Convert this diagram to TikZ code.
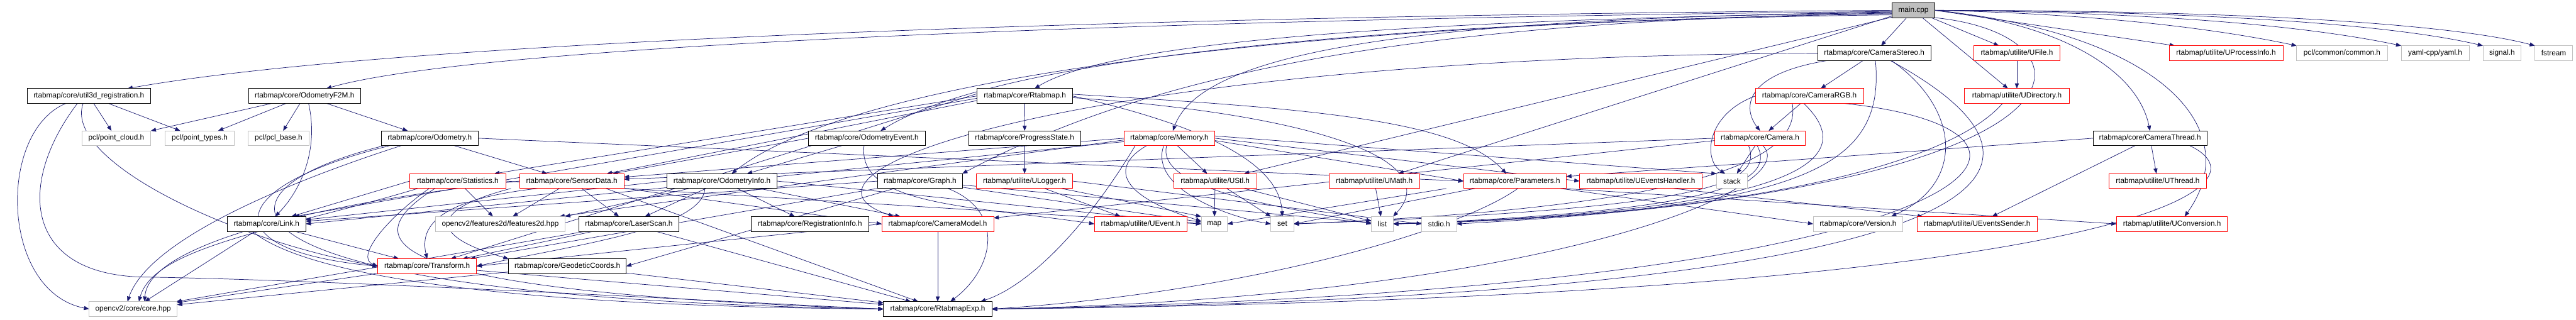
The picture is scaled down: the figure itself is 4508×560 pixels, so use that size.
\documentclass[tikz,border=0pt]{standalone}
\usepackage{fontspec}
\setmainfont{Liberation Sans}
\usetikzlibrary{arrows.meta}
\definecolor{edgec}{HTML}{191970}
\definecolor{grayb}{HTML}{BFBFBF}
\definecolor{redb}{HTML}{FF0000}
\pgfdeclarelayer{bg}
\pgfsetlayers{bg,main}
\tikzset{
  hbox/.style={draw, fill=white, line width=0.9pt, minimum height=26pt, inner sep=0pt, outer sep=0pt, font=\fontsize{13}{15}\selectfont},
  blkbox/.style={hbox, draw=black},
  redbox/.style={hbox, draw=redb},
  grybox/.style={hbox, draw=grayb},
  mainbox/.style={hbox, draw=black, fill=grayb},
  edg/.style={draw=edgec, line width=0.8pt, -{Triangle[length=9pt,width=7pt]}},
}
\begin{document}
\begin{tikzpicture}[x=1pt,y=-1pt]
\useasboundingbox (0,0) rectangle (4508,560);
% row 0
\node[mainbox, minimum width=75pt] (main) at (3348.5,18) {main.cpp};
% row 1
\node[blkbox, minimum width=198pt] (camstereo) at (3280,93) {rtabmap/core/CameraStereo.h};
\node[redbox, minimum width=151pt] (ufile) at (3529.5,93) {rtabmap/utilite/UFile.h};
\node[redbox, minimum width=199pt] (uproc) at (3895.5,93) {rtabmap/utilite/UProcessInfo.h};
\node[grybox, minimum width=159pt] (pclcommon) at (4098.5,93) {pcl/common/common.h};
\node[grybox, minimum width=119pt] (yaml) at (4261.5,93) {yaml-cpp/yaml.h};
\node[grybox, minimum width=67pt] (signal) at (4378.5,93) {signal.h};
\node[grybox, minimum width=66pt] (fstream) at (4469,93) {fstream};
% row 2
\node[blkbox, minimum width=215pt] (util3d) at (155.5,168) {rtabmap/core/util3d\_registration.h};
\node[blkbox, minimum width=196pt] (f2m) at (533,168) {rtabmap/core/OdometryF2M.h};
\node[blkbox, minimum width=167pt] (rtabmap) at (1793.5,168) {rtabmap/core/Rtabmap.h};
\node[redbox, minimum width=189pt] (camrgb) at (3166.5,168) {rtabmap/core/CameraRGB.h};
\node[redbox, minimum width=183pt] (udir) at (3529.5,168) {rtabmap/utilite/UDirectory.h};
% row 3
\node[grybox, minimum width=121pt] (pclcloud) at (203.5,242) {pcl/point\_cloud.h};
\node[grybox, minimum width=121pt] (pcltypes) at (349.5,242) {pcl/point\_types.h};
\node[grybox, minimum width=107pt] (pclbase) at (487.5,242) {pcl/pcl\_base.h};
\node[blkbox, minimum width=170pt] (odom) at (752,242) {rtabmap/core/Odometry.h};
\node[blkbox, minimum width=204pt] (odomevent) at (1517,242) {rtabmap/core/OdometryEvent.h};
\node[blkbox, minimum width=196pt] (progress) at (1793,242) {rtabmap/core/ProgressState.h};
\node[redbox, minimum width=159pt] (memory) at (2046.5,242) {rtabmap/core/Memory.h};
\node[redbox, minimum width=158pt] (camera) at (3080,242) {rtabmap/core/Camera.h};
\node[blkbox, minimum width=199pt] (camthread) at (3762.5,242) {rtabmap/core/CameraThread.h};
% row 4
\node[redbox, minimum width=168pt] (stats) at (801,317) {rtabmap/core/Statistics.h};
\node[redbox, minimum width=183pt] (sensordata) at (1000.5,317) {rtabmap/core/SensorData.h};
\node[blkbox, minimum width=193pt] (odominfo) at (1263.5,317) {rtabmap/core/OdometryInfo.h};
\node[blkbox, minimum width=148pt] (graph) at (1610,317) {rtabmap/core/Graph.h};
\node[redbox, minimum width=168pt] (ulogger) at (1793,317) {rtabmap/utilite/ULogger.h};
\node[redbox, minimum width=145pt] (ustl) at (2126.5,317) {rtabmap/utilite/UStl.h};
\node[redbox, minimum width=158pt] (umath) at (2405,317) {rtabmap/utilite/UMath.h};
\node[redbox, minimum width=180pt] (params) at (2651,317) {rtabmap/core/Parameters.h};
\node[redbox, minimum width=215pt] (uevh) at (2871.5,317) {rtabmap/utilite/UEventsHandler.h};
\node[grybox, minimum width=54pt] (stack) at (3031,317) {stack};
\node[redbox, minimum width=170pt] (uthread) at (3776,317) {rtabmap/utilite/UThread.h};
% row 5
\node[blkbox, minimum width=137pt] (link) at (466.5,392) {rtabmap/core/Link.h};
\node[grybox, minimum width=227pt] (feat2d) at (875.5,392) {opencv2/features2d/features2d.hpp};
\node[blkbox, minimum width=175pt] (laserscan) at (1100.5,392) {rtabmap/core/LaserScan.h};
\node[blkbox, minimum width=205pt] (reginfo) at (1417.5,392) {rtabmap/core/RegistrationInfo.h};
\node[redbox, minimum width=196pt] (cammodel) at (1641,392) {rtabmap/core/CameraModel.h};
\node[redbox, minimum width=162pt] (uevent) at (1996,392) {rtabmap/utilite/UEvent.h};
\node[grybox, minimum width=46pt] (map) at (2125,392) {map};
\node[grybox, minimum width=40pt] (set) at (2244,392) {set};
\node[grybox, minimum width=38pt] (list) at (2419,392) {list};
\node[grybox, minimum width=61pt] (stdio) at (2518.5,392) {stdio.h};
\node[grybox, minimum width=157pt] (version) at (3251.5,392) {rtabmap/core/Version.h};
\node[redbox, minimum width=210pt] (uevsender) at (3460,392) {rtabmap/utilite/UEventsSender.h};
\node[redbox, minimum width=194pt] (uconv) at (3801,392) {rtabmap/utilite/UConversion.h};
% row 6
\node[redbox, minimum width=173pt] (transform) at (747.5,466) {rtabmap/core/Transform.h};
\node[blkbox, minimum width=206pt] (geodetic) at (993,466) {rtabmap/core/GeodeticCoords.h};
% row 7
\node[grybox, minimum width=154pt] (corehpp) at (233,541) {opencv2/core/core.hpp};
\node[blkbox, minimum width=190pt] (rtabexp) at (1641,541) {rtabmap/core/RtabmapExp.h};

\begin{pgfonlayer}{bg}
% main.cpp
\draw[edg] (main) -- (camstereo);
\draw[edg] (main) -- (ufile);
\draw[edg] (main) -- (udir);
\draw[edg] (main.east) .. controls (3600,40) and (3740,120) .. (camthread.north);
\draw[edg] (main.east) .. controls (3790,60) and (3930,230) .. ([xshift=22pt]uconv.north);
\draw[edg] (main.east) -- ([xshift=10pt]uproc.north west);
\draw[edg] (main.east) .. controls (3700,25) and (3900,55) .. (pclcommon.north west);
\draw[edg] (main.east) .. controls (3800,22) and (4050,48) .. (yaml.north west);
\draw[edg] (main.east) .. controls (3900,20) and (4200,46) .. (signal.north west);
\draw[edg] (main.east) .. controls (3950,18) and (4300,44) .. (fstream.north west);
\draw[edg] (main.west) .. controls (2000,28) and (700,70) .. ([xshift=-40pt]util3d.north east);
\draw[edg] ([yshift=-2pt]main.west) .. controls (2100,32) and (850,75) .. ([xshift=38pt]f2m.north);
\draw[edg] ([yshift=-4pt]main.west) .. controls (2500,34) and (1950,70) .. ([xshift=17pt]rtabmap.north);
\draw[edg] ([yshift=-6pt]main.west) .. controls (2400,40) and (1750,100) .. ([xshift=24pt]odomevent.north);
\draw[edg] ([yshift=-8pt]main.west) .. controls (2300,38) and (1500,130) .. ([xshift=17pt]odominfo.north);
\draw[edg] ([yshift=-3pt]main.west) .. controls (2600,32) and (2110,70) .. ([xshift=6pt]memory.north);
\draw[edg] ([yshift=-5pt]main.west) .. controls (2500,36) and (2030,120) .. (graph.north east);
\draw[edg] ([yshift=-10pt]main.west) -- ([xshift=42pt]umath.north);
\draw[edg] ([yshift=-12pt]main.west) -- ([xshift=-22pt]ustl.north east);
\draw[edg] (main.south east) .. controls (3680,60) and (3720,330) .. (stdio.east);
% CameraStereo
\draw[edg] (camstereo) -- (camrgb);
\draw[edg] ([xshift=17pt]camstereo.south west) .. controls (3050,130) and (3050,190) .. (camera.north);
\draw[edg] (camstereo.west) .. controls (1900,100) and (1330,300) .. ([xshift=-77pt]cammodel.north);
\draw[edg] ([xshift=30pt]camstereo.south) .. controls (3430,190) and (3440,320) .. ([xshift=58pt]version.north);
\draw[edg] ([xshift=28pt]camstereo.south) .. controls (3720,330) and (3400,520) .. (rtabexp.east);
\draw[edg] ([xshift=2pt]camstereo.south) .. controls (3300,300) and (3150,370) .. (list.east);
% CameraRGB
\draw[edg] (camrgb) -- (camera);
\draw[edg] (camrgb.west) .. controls (2985,200) and (2980,280) .. ([xshift=-12pt]stack.north);
\draw[edg] ([xshift=-30pt]camrgb.south) .. controls (3150,260) and (3050,360) .. (set.east);
\draw[edg] ([xshift=-10pt]camrgb.south) .. controls (3260,280) and (3150,370) .. (list.east);
\draw[edg] ([xshift=60pt]camrgb.south) .. controls (3700,230) and (3500,510) .. (rtabexp.east);
% Camera
\draw[edg] (camera) -- (stack);
\draw[edg] (camera.west) -- (sensordata);
\draw[edg] ([yshift=-4pt]camera.west) -- (cammodel);
\draw[edg] ([xshift=-20pt]camera.south) .. controls (3085,320) and (3000,365) .. (set.east);
\draw[edg] ([xshift=-5pt]camera.south) .. controls (3110,320) and (3000,370) .. (list.east);
\draw[edg] ([xshift=5pt]camera.south) .. controls (3160,330) and (2700,520) .. (rtabexp.east);
% CameraThread
\draw[edg] (camthread.west) -- ([yshift=-5pt]params.north east);
\draw[edg] (camthread) -- (uthread);
\draw[edg] (camthread) -- (uevsender);
\draw[edg] ([xshift=-30pt]camthread.south east) .. controls (3990,330) and (3700,520) .. (rtabexp.east);
% UFile / UDirectory
\draw[edg] (ufile) -- (udir);
\draw[edg] ([xshift=-25pt]udir.south) .. controls (3400,300) and (3000,380) .. (list.east);
% UEventsHandler
\draw[edg] ([xshift=-50pt]uevh.south east) -- ([xshift=10pt]uevsender.north west);
% Parameters
\draw[edg] ([xshift=5pt]params.south) .. controls (2560,400) and (2200,510) .. (rtabexp.east);
\draw[edg] ([xshift=20pt]params.south west) -- (set.east);
\draw[edg] ([xshift=-10pt]params.south east) -- (version.west);
\draw[edg] ([xshift=-5pt]params.south east) -- (uconv.west);
\draw[edg] ([xshift=-30pt]params.south west) -- (map.east);
% Memory
\draw[edg] (memory.east) -- (uevh.west);
\draw[edg] ([yshift=-4pt]memory.east) -- (params.west);
\draw[edg] (memory) -- (ustl);
\draw[edg] ([xshift=-40pt]memory.south) .. controls (1930,300) and (1980,350) .. ([yshift=5pt]map.west);
\draw[edg] ([xshift=-10pt]memory.south) .. controls (2010,330) and (2150,380) .. (set.west);
\draw[edg] ([xshift=-5pt]memory.south) .. controls (2020,340) and (2300,370) .. (list.west);
\draw[edg] ([yshift=4pt]memory.east) -- (stack.north west);
\draw[edg] (memory.west) -- (sensordata);
\draw[edg] ([yshift=-6pt]memory.west) -- (link.east);
\draw[edg] ([yshift=-3pt]memory.west) -- ([xshift=-10pt]feat2d.north east);
\draw[edg] ([xshift=-60pt]memory.south) .. controls (1900,400) and (1800,500) .. ([xshift=-20pt]rtabexp.north east);
% Rtabmap
\draw[edg] (rtabmap) -- (progress);
\draw[edg] (rtabmap.west) -- ([xshift=-20pt]stats.north east);
\draw[edg] ([yshift=-4pt]rtabmap.west) -- ([xshift=-20pt]link.north east);
\draw[edg] ([yshift=-8pt]rtabmap.west) -- ([xshift=-30pt]sensordata.north east);
\draw[edg] ([yshift=4pt]rtabmap.west) -- (transform);
\draw[edg] ([yshift=3pt]rtabmap.east) .. controls (2300,190) and (2550,210) .. ([xshift=-15pt]params.north);
\draw[edg] (rtabmap.east) .. controls (2150,230) and (2240,300) .. (set.north);
\draw[edg] ([yshift=-3pt]rtabmap.east) .. controls (2300,200) and (2530,280) .. (list.north east);
% ProgressState / ULogger
\draw[edg] (progress) -- (ulogger);
\draw[edg] (ulogger) -- (uevent);
\draw[edg] (ulogger) -- (map.north west);
\draw[edg] (ulogger.east) -- (stdio.west);
% UStl / UMath
\draw[edg] (ustl) -- (map);
\draw[edg] (ustl) -- (set);
\draw[edg] (ustl) -- (list);
\draw[edg] (umath) -- (list);
% Graph
\draw[edg] ([xshift=-25pt]graph.south east) .. controls (1760,370) and (1740,470) .. ([xshift=22pt]rtabexp.north);
\draw[edg] (graph) -- (transform);
\draw[edg] (graph.west) -- (link);
\draw[edg] (graph) -- (geodetic.east);
\draw[edg] (graph) -- (map);
\draw[edg] (graph) -- (list);
% OdometryEvent
\draw[edg] (odomevent) -- (odominfo);
\draw[edg] (odomevent.west) -- (sensordata);
\draw[edg] ([xshift=-5pt]odomevent.south) .. controls (1500,360) and (1700,360) .. (uevent.west);
% OdometryInfo
\draw[edg] (odominfo) -- (reginfo);
\draw[edg] (odominfo) -- (cammodel);
\draw[edg] (odominfo) -- (laserscan);
\draw[edg] ([xshift=-30pt]odominfo.south) .. controls (1230,400) and (1000,430) .. (transform.east);
\draw[edg] (odominfo.west) -- (link);
\draw[edg] (odominfo) -- (feat2d.north east);
\draw[edg] (odominfo.east) -- (map.west);
% SensorData
\draw[edg] ([xshift=-60pt]sensordata.south) .. controls (760,350) and (735,400) .. (transform.north);
\draw[edg] (sensordata) -- (feat2d);
\draw[edg] (sensordata) -- (laserscan);
\draw[edg] (sensordata) -- (cammodel.west);
\draw[edg] ([xshift=-15pt]sensordata.south west) .. controls (760,365) and (740,410) .. (geodetic.north west);
\draw[edg] ([xshift=60pt]sensordata.south) -- ([xshift=-34pt]rtabexp.north);
\draw[edg] (sensordata.west) .. controls (600,350) and (260,420) .. ([xshift=20pt]corehpp.north);
% Statistics
\draw[edg] (stats) -- (feat2d);
\draw[edg] ([xshift=-40pt]stats.south) .. controls (620,420) and (640,510) .. (rtabexp.west);
\draw[edg] (stats.west) -- (link);
\draw[edg] ([xshift=-50pt]stats.south) .. controls (680,380) and (620,450) .. (transform.west);
\draw[edg] ([xshift=-70pt]stats.south) .. controls (500,400) and (270,430) .. ([xshift=10pt]corehpp.north);
\draw[edg] (stats.east) -- (map.west);
% Odometry
\draw[edg] (odom) -- (sensordata);
\draw[edg] (odom.east) -- (params.west);
\draw[edg] ([xshift=-50pt]odom.south) .. controls (500,320) and (260,420) .. ([xshift=-10pt]corehpp.north);
\draw[edg] ([xshift=-70pt]odom.south) .. controls (380,330) and (380,440) .. (transform.west);
\draw[edg] ([xshift=-80pt]odom.south) .. controls (330,340) and (350,520) .. (rtabexp.west);
% OdometryF2M
\draw[edg] (f2m) -- (pclcloud.north east);
\draw[edg] (f2m) -- (pcltypes);
\draw[edg] (f2m) -- (pclbase);
\draw[edg] ([xshift=7pt]f2m.south) .. controls (560,270) and (520,340) .. ([xshift=15pt]link.north);
\draw[edg] (f2m) -- (odom);
% util3d_registration
\draw[edg] (util3d) -- (pclcloud);
\draw[edg] (util3d) -- (pcltypes);
\draw[edg] ([xshift=-40pt]util3d.south) .. controls (-5,230) and (0,510) .. (corehpp.west);
\draw[edg] ([xshift=-20pt]util3d.south) .. controls (30,320) and (40,480) .. (250,485) .. controls (600,490) and (1300,530) .. (rtabexp.west);
\draw[edg] ([xshift=-10pt]util3d.south) .. controls (110,280) and (400,420) .. (transform.west);
% Link
\draw[edg] (link) -- (corehpp);
\draw[edg] (link) -- (transform);
\draw[edg] ([xshift=-25pt]link.south) .. controls (520,470) and (800,535) .. (rtabexp.west);
% Transform, GeodeticCoords, LaserScan, CameraModel
\draw[edg] (transform) -- (corehpp);
\draw[edg] (transform) -- (rtabexp);
\draw[edg] (geodetic) -- (corehpp);
\draw[edg] (geodetic) -- (rtabexp);
\draw[edg] (laserscan) -- (transform);
\draw[edg] (laserscan) -- (rtabexp);
\draw[edg] (laserscan) -- (corehpp);
\draw[edg] (cammodel) -- (rtabexp);
\draw[edg] (cammodel.west) -- (transform.east);
\end{pgfonlayer}
\end{tikzpicture}
\end{document}
